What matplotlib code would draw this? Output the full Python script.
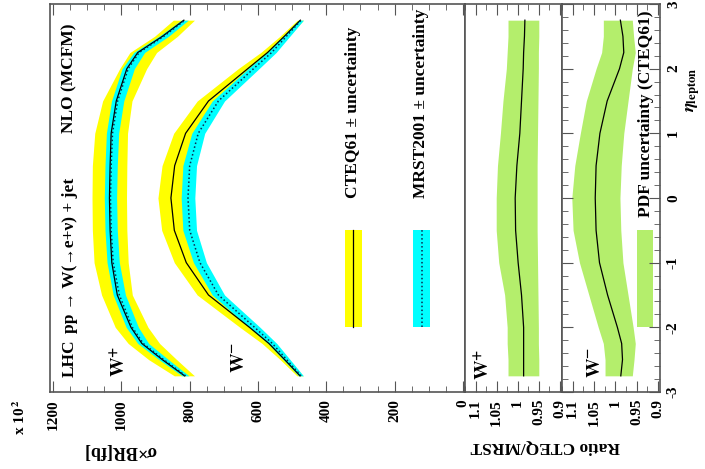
import matplotlib
matplotlib.use("Agg")
import matplotlib.pyplot as plt
from matplotlib.ticker import MultipleLocator, FuncFormatter

# pseudorapidity grid (shared by all curves)
eta = [-2.75, -2.5, -2.25, -2.0, -1.5, -1.0, -0.5, 0.0, 0.5, 1.0, 1.5, 2.0, 2.25, 2.5, 2.75]

# W+ sigma x BR [fb]
wp_cteq = [815, 880, 940, 972, 1012, 1028, 1033, 1035, 1033, 1030, 1015, 984, 952, 880, 817]
wp_cteq_hi = [845, 920, 980, 1018, 1058, 1080, 1085, 1086, 1085, 1078, 1055, 1005, 975, 903, 848]
wp_cteq_lo = [786, 838, 888, 922, 968, 980, 984, 985, 984, 982, 969, 926, 897, 836, 786]
wp_mrst = [812, 876, 936, 968, 1006, 1024, 1030, 1032, 1030, 1026, 1011, 980, 948, 876, 814]
wp_mrst_hi = [822, 890, 952, 986, 1024, 1042, 1048, 1050, 1048, 1044, 1029, 998, 964, 890, 824]
wp_mrst_lo = [802, 862, 920, 950, 988, 1006, 1012, 1014, 1012, 1008, 993, 962, 932, 862, 804]

# W- sigma x BR [fb]
wm_cteq = [477, 522, 568, 625, 745, 810, 845, 855, 844, 812, 745, 630, 572, 523, 476]
wm_cteq_hi = [486, 535, 588, 653, 778, 845, 882, 893, 881, 847, 778, 658, 592, 536, 485]
wm_cteq_lo = [468, 509, 548, 597, 712, 775, 808, 817, 807, 777, 712, 602, 552, 510, 467]
wm_mrst = [474, 516, 558, 610, 716, 770, 800, 805, 800, 775, 716, 613, 560, 517, 474]
wm_mrst_hi = [481, 526, 571, 626, 734, 789, 820, 825, 820, 794, 734, 629, 573, 527, 481]
wm_mrst_lo = [467, 506, 545, 594, 698, 751, 780, 785, 780, 756, 698, 597, 547, 507, 467]

# ratio CTEQ/MRST with PDF uncertainty (CTEQ61)
rp = [0.986, 0.986, 0.986, 0.986, 0.991, 0.999, 1.005, 1.006, 1.002, 0.995, 0.991, 0.987, 0.986, 0.984, 0.983]
rp_hi = [1.023, 1.023, 1.025, 1.025, 1.031, 1.045, 1.051, 1.051, 1.048, 1.041, 1.035, 1.027, 1.025, 1.023, 1.023]
rp_lo = [0.950, 0.950, 0.951, 0.951, 0.952, 0.953, 0.954, 0.954, 0.954, 0.953, 0.952, 0.951, 0.951, 0.950, 0.950]
rm = [0.987, 0.983, 0.985, 0.995, 1.018, 1.037, 1.045, 1.047, 1.045, 1.036, 1.019, 0.990, 0.980, 0.982, 0.988]
rm_hi = [1.024, 1.024, 1.028, 1.040, 1.062, 1.084, 1.099, 1.102, 1.095, 1.082, 1.068, 1.045, 1.032, 1.028, 1.028]
rm_lo = [0.960, 0.956, 0.953, 0.958, 0.970, 0.982, 0.987, 0.989, 0.986, 0.980, 0.970, 0.960, 0.953, 0.957, 0.960]

YELLOW = '#ffff00'
CYAN = '#00ffff'
GREEN = '#b4ee6c'
DOT = '#0a2a50'
FRAME = '#555555'

plt.rcParams['font.family'] = ['Liberation Serif', 'DejaVu Serif']
plt.rcParams['font.weight'] = 'bold'
plt.rcParams['mathtext.fontset'] = 'stix'

W, H = 705, 469
fig = plt.figure(figsize=(W / 100, H / 100), dpi=100)


def box(x0, x1, y0, y1):
    return [x0 / W, 1 - y1 / H, (x1 - x0) / W, (y1 - y0) / H]


ax = fig.add_axes(box(50, 465, 4, 392))
axp = fig.add_axes(box(465, 562, 4, 392))
axm = fig.add_axes(box(562, 660, 4, 392))

for a in (ax, axp, axm):
    a.set_ylim(-3, 3)
    for s in a.spines.values():
        s.set_color(FRAME)
        s.set_linewidth(1.2)

# main panel
ax.fill_betweenx(eta, wp_cteq_lo, wp_cteq_hi, color=YELLOW, lw=0)
ax.fill_betweenx(eta, wm_cteq_lo, wm_cteq_hi, color=YELLOW, lw=0)
ax.fill_betweenx(eta, wp_mrst_lo, wp_mrst_hi, color=CYAN, lw=0)
ax.fill_betweenx(eta, wm_mrst_lo, wm_mrst_hi, color=CYAN, lw=0)
ax.plot(wp_cteq, eta, color='black', lw=0.9)
ax.plot(wm_cteq, eta, color='black', lw=0.9)
ax.plot(wp_mrst, eta, color=DOT, lw=1.1, ls=(0, (1, 1.6)))
ax.plot(wm_mrst, eta, color=DOT, lw=1.1, ls=(0, (1, 1.6)))

# legend swatches
ax.fill_betweenx([-2.0, -0.5], 296, 346, color=YELLOW, lw=0)
ax.plot([321, 321], [-2.0, -0.5], color='black', lw=0.9)
ax.fill_betweenx([-2.0, -0.5], 97, 146, color=CYAN, lw=0)
ax.plot([121, 121], [-2.0, -0.5], color=DOT, lw=1.1, ls=(0, (1, 1.6)))

ax.set_xlim(1209, -6)
ax.xaxis.set_major_locator(MultipleLocator(200))
ax.xaxis.set_minor_locator(MultipleLocator(50))
ax.tick_params(axis='x', which='both', direction='in', top=True, bottom=True,
               labelrotation=90, labelsize=11, color=FRAME, pad=5)
ax.tick_params(axis='x', which='major', length=8)
ax.tick_params(axis='x', which='minor', length=4)
ax.tick_params(axis='y', which='both', left=False, right=False, labelleft=False)

tkw = dict(rotation=90, ha='center', fontsize=12.5, fontweight='bold')
ax.text(1151, -2.77, 'LHC', va='bottom', **tkw)
ax.text(1151, -2.08, 'pp \u2192 W(\u2192e+\u03bd) + jet', va='bottom', **tkw)
ax.text(1151, 1.0, 'NLO (MCFM)', va='bottom', **tkw)
ax.text(322, 0.0, 'CTEQ61 \u00b1 uncertainty', va='bottom', **tkw)
ax.text(123, 0.0, 'MRST2001 \u00b1 uncertainty', va='bottom', **tkw)
ax.text(1004, -2.53, r'$\mathbf{W^{+}}$', va='center', rotation=90, ha='center', fontsize=14)
ax.text(653, -2.47, r'$\mathbf{W^{-}}$', va='center', rotation=90, ha='center', fontsize=14)

# ratio panels
axp.fill_betweenx(eta, rp_lo, rp_hi, color=GREEN, lw=0)
axp.plot(rp, eta, color='black', lw=0.9)
axm.fill_betweenx(eta, rm_lo, rm_hi, color=GREEN, lw=0)
axm.plot(rm, eta, color='black', lw=0.9)
axm.fill_betweenx([-2.0, -0.5], 0.912, 0.950, color=GREEN, lw=0)
axm.text(0.929, -0.29, 'PDF uncertainty (CTEQ61)', va='bottom', **tkw)
axp.text(1.078, -2.58, r'$\mathbf{W^{+}}$', va='center', rotation=90, ha='center', fontsize=14)
axm.text(1.047, -2.55, r'$\mathbf{W^{-}}$', va='center', rotation=90, ha='center', fontsize=14)

rfmt = FuncFormatter(lambda v, _: f"{v:g}")
for a in (axp, axm):
    a.set_xlim(1.125, 0.895)
    a.xaxis.set_major_locator(MultipleLocator(0.05))
    a.xaxis.set_minor_locator(MultipleLocator(0.025))
    a.xaxis.set_major_formatter(rfmt)
    a.tick_params(axis='x', which='both', direction='in', top=True, bottom=True,
                  labelrotation=90, labelsize=11, color=FRAME, pad=5)
    a.tick_params(axis='x', which='major', length=8)
    a.tick_params(axis='x', which='minor', length=4)

axp.tick_params(axis='y', which='both', left=False, right=False, labelleft=False)

axm.yaxis.set_major_locator(MultipleLocator(1))
axm.yaxis.set_minor_locator(MultipleLocator(0.2))
axm.yaxis.set_major_formatter(FuncFormatter(lambda v, _: f"{int(round(v))}"))
axm.tick_params(axis='y', which='both', direction='in', left=True, right=True,
                labelleft=False, labelright=True, labelrotation=90, labelsize=11,
                color=FRAME, pad=5)
axm.tick_params(axis='y', which='major', length=8)
axm.tick_params(axis='y', which='minor', length=4)
for lab in axm.get_yticklabels():
    lab.set_va('center')

# axis titles (figure is drawn rotated)
fig.text(120 / W, 1 - 450 / H, '\u03c3\u00d7BR[fb]', rotation=180, ha='center', va='center',
         fontsize=13, fontweight='bold')
fig.text(545 / W, 1 - 447 / H, 'Ratio CTEQ/MRST', rotation=180, ha='center', va='center',
         fontsize=12.5, fontweight='bold')
fig.text(20 / W, 1 - 417 / H, r'x 10$^{\,2}$', rotation=90, ha='center', va='center',
         fontsize=11, fontweight='bold')
fig.text(693 / W, 1 - 90 / H, r'$\eta_{\mathbf{lepton}}$', rotation=90, ha='center', va='center',
         fontsize=13)

fig.savefig('out.png', dpi=100)
